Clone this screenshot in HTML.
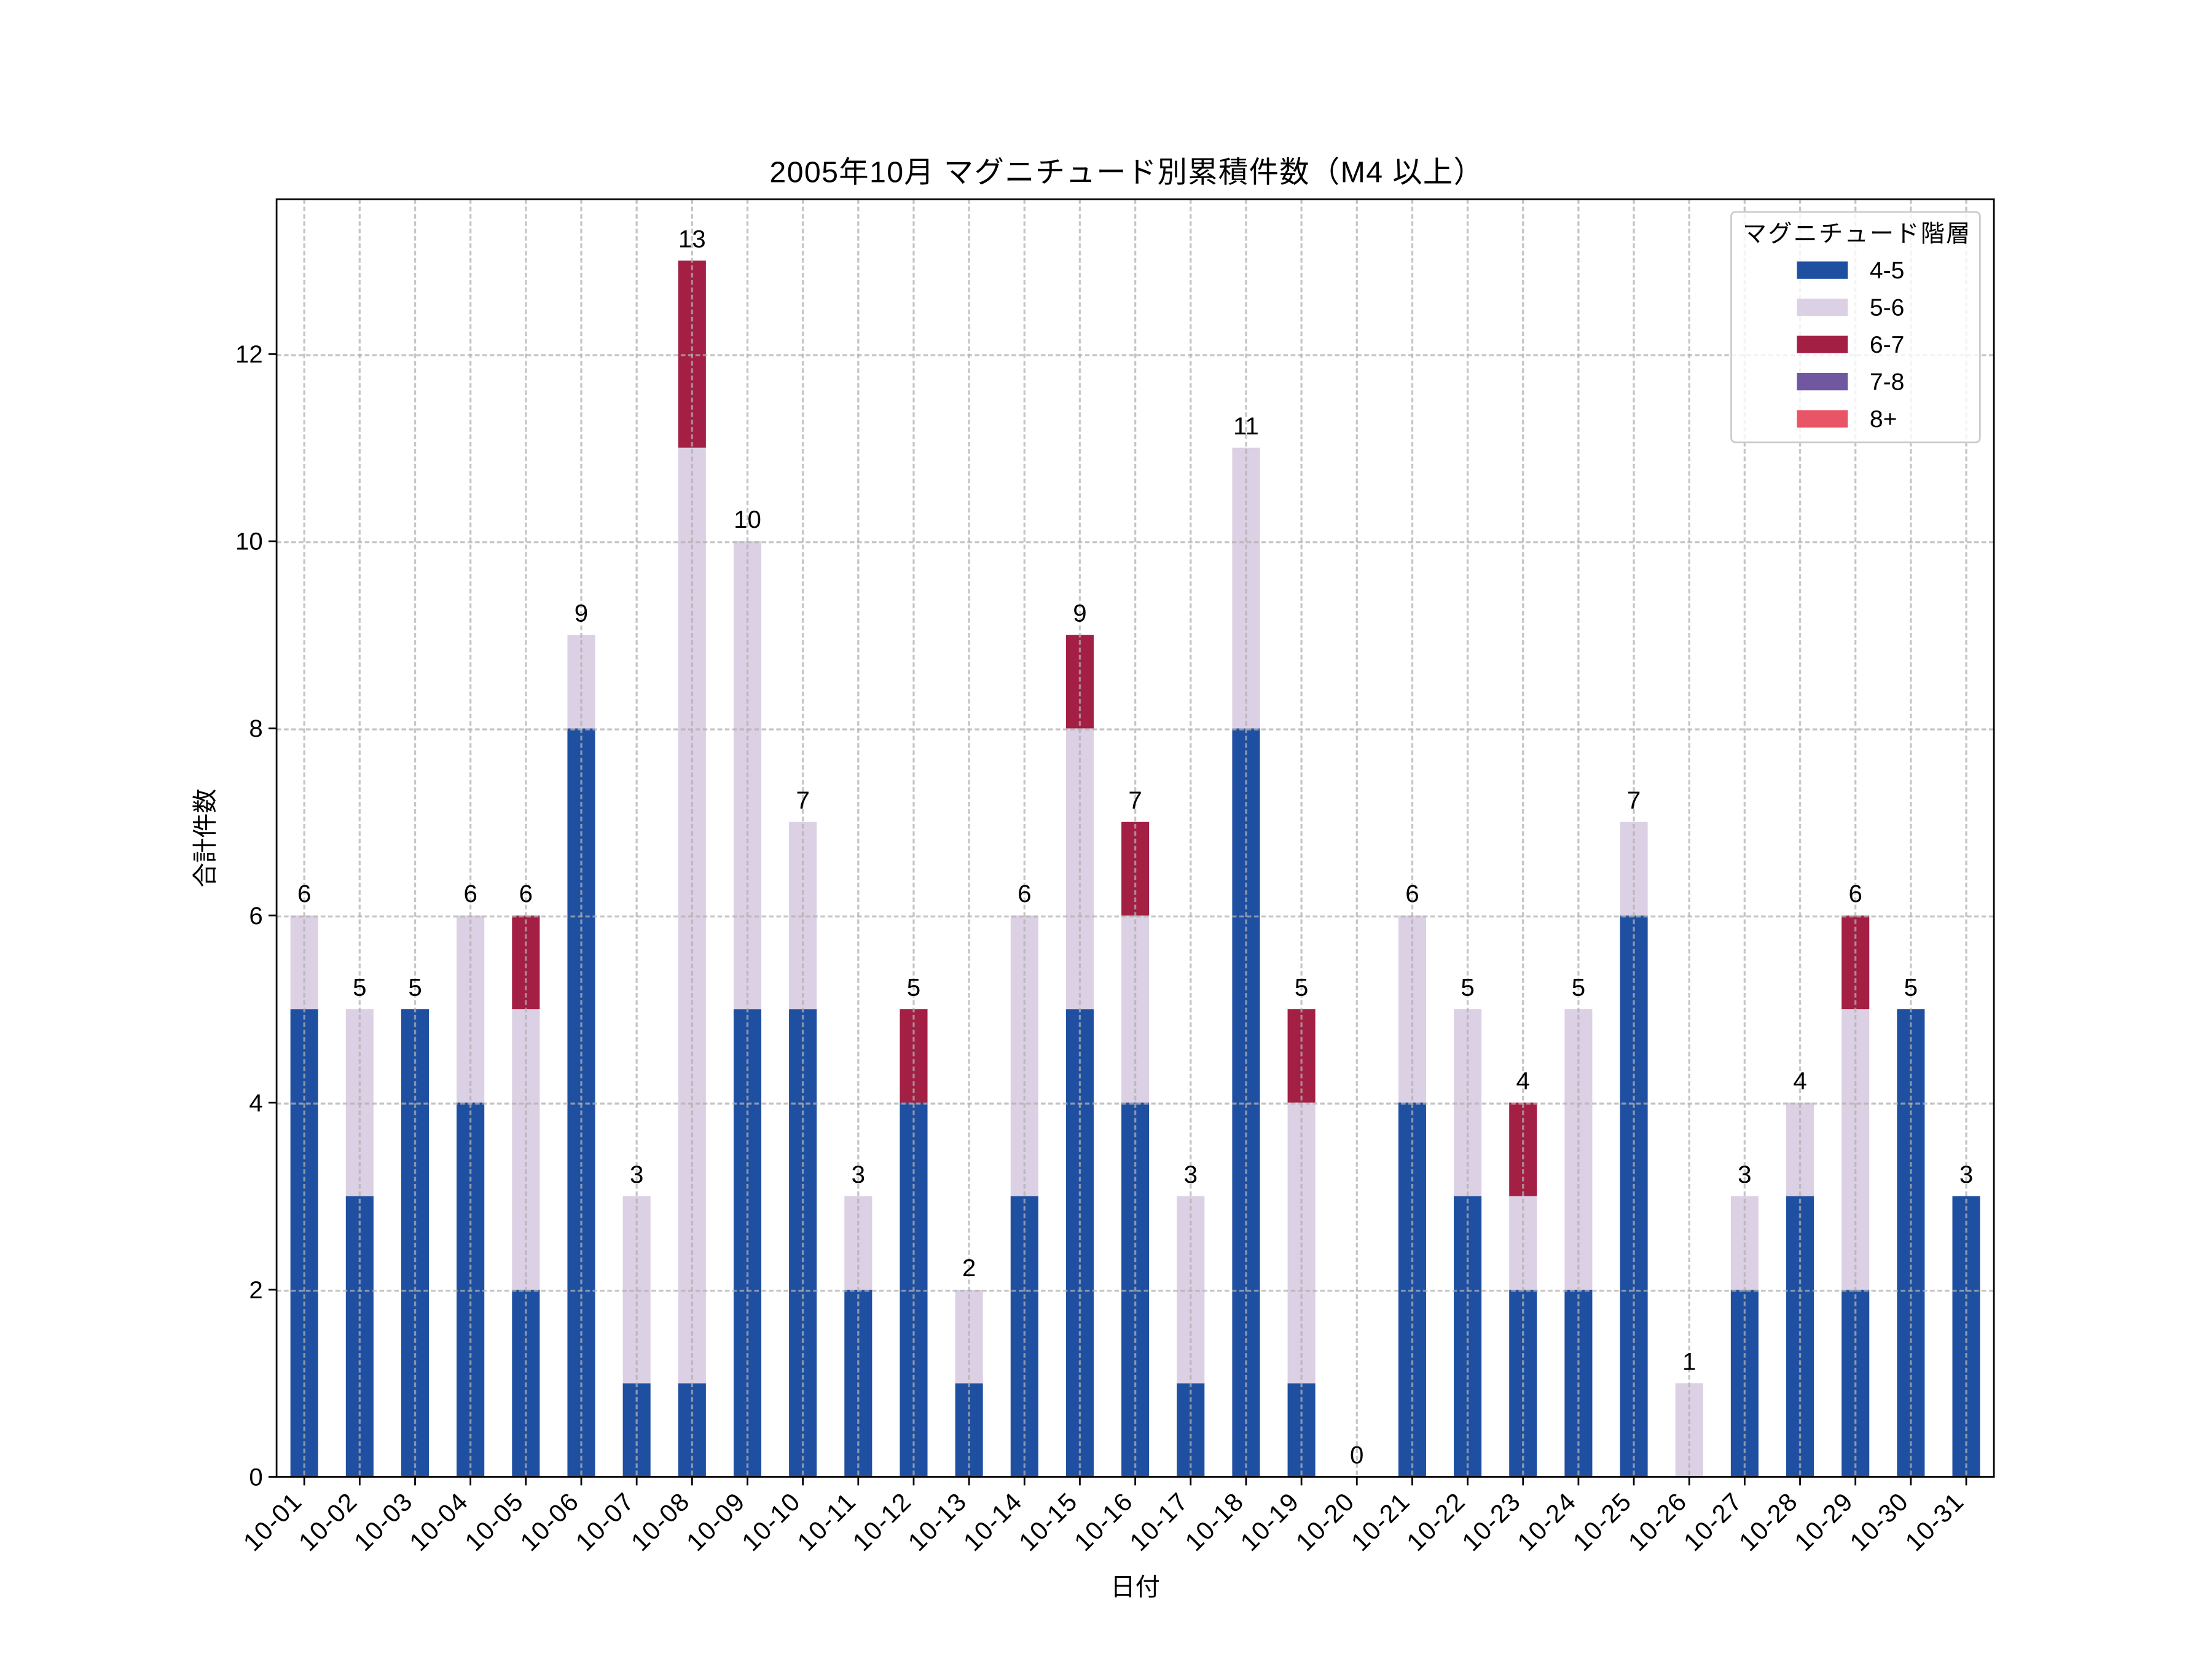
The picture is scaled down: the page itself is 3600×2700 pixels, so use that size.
<!DOCTYPE html>
<html><head><meta charset="utf-8"><style>html,body{margin:0;padding:0;background:#fff}svg{display:block}text{font-family:"Liberation Sans","Noto Sans CJK JP",sans-serif;fill:#000}</style></head><body>
<svg width="3600" height="2700" viewBox="0 0 1565.2 1173.9" xmlns="http://www.w3.org/2000/svg">
<defs>
<pattern id="gv" patternUnits="userSpaceOnUse" x="195.7" y="141" width="39.2" height="5.2"><line x1="19.6" y1="0" x2="19.6" y2="3.3" stroke="#b0b0b0" stroke-width="1.4" stroke-opacity="0.75"/></pattern>
<pattern id="gh" patternUnits="userSpaceOnUse" x="195.7" y="118.2" width="5.2" height="132.4"><line x1="0" y1="0" x2="3.3" y2="0" stroke="#b0b0b0" stroke-width="2.8" stroke-opacity="0.75"/></pattern>
</defs>
<rect width="1565.2" height="1173.9" fill="#fff"/>
<g transform="translate(215.3 1045) scale(39.2 -66.2)">
<g fill="#1f4fa0">
<rect x="-0.25" y="0" width="0.5" height="5"/><rect x="0.75" y="0" width="0.5" height="3"/><rect x="1.75" y="0" width="0.5" height="5"/><rect x="2.75" y="0" width="0.5" height="4"/><rect x="3.75" y="0" width="0.5" height="2"/><rect x="4.75" y="0" width="0.5" height="8"/><rect x="5.75" y="0" width="0.5" height="1"/><rect x="6.75" y="0" width="0.5" height="1"/><rect x="7.75" y="0" width="0.5" height="5"/><rect x="8.75" y="0" width="0.5" height="5"/><rect x="9.75" y="0" width="0.5" height="2"/><rect x="10.75" y="0" width="0.5" height="4"/><rect x="11.75" y="0" width="0.5" height="1"/><rect x="12.75" y="0" width="0.5" height="3"/><rect x="13.75" y="0" width="0.5" height="5"/><rect x="14.75" y="0" width="0.5" height="4"/><rect x="15.75" y="0" width="0.5" height="1"/><rect x="16.75" y="0" width="0.5" height="8"/><rect x="17.75" y="0" width="0.5" height="1"/><rect x="19.75" y="0" width="0.5" height="4"/><rect x="20.75" y="0" width="0.5" height="3"/><rect x="21.75" y="0" width="0.5" height="2"/><rect x="22.75" y="0" width="0.5" height="2"/><rect x="23.75" y="0" width="0.5" height="6"/><rect x="25.75" y="0" width="0.5" height="2"/><rect x="26.75" y="0" width="0.5" height="3"/><rect x="27.75" y="0" width="0.5" height="2"/><rect x="28.75" y="0" width="0.5" height="5"/><rect x="29.75" y="0" width="0.5" height="3"/>
</g>
<g fill="#dcd0e4">
<rect x="-0.25" y="5" width="0.5" height="1"/><rect x="0.75" y="3" width="0.5" height="2"/><rect x="2.75" y="4" width="0.5" height="2"/><rect x="3.75" y="2" width="0.5" height="3"/><rect x="4.75" y="8" width="0.5" height="1"/><rect x="5.75" y="1" width="0.5" height="2"/><rect x="6.75" y="1" width="0.5" height="10"/><rect x="7.75" y="5" width="0.5" height="5"/><rect x="8.75" y="5" width="0.5" height="2"/><rect x="9.75" y="2" width="0.5" height="1"/><rect x="11.75" y="1" width="0.5" height="1"/><rect x="12.75" y="3" width="0.5" height="3"/><rect x="13.75" y="5" width="0.5" height="3"/><rect x="14.75" y="4" width="0.5" height="2"/><rect x="15.75" y="1" width="0.5" height="2"/><rect x="16.75" y="8" width="0.5" height="3"/><rect x="17.75" y="1" width="0.5" height="3"/><rect x="19.75" y="4" width="0.5" height="2"/><rect x="20.75" y="3" width="0.5" height="2"/><rect x="21.75" y="2" width="0.5" height="1"/><rect x="22.75" y="2" width="0.5" height="3"/><rect x="23.75" y="6" width="0.5" height="1"/><rect x="24.75" y="0" width="0.5" height="1"/><rect x="25.75" y="2" width="0.5" height="1"/><rect x="26.75" y="3" width="0.5" height="1"/><rect x="27.75" y="2" width="0.5" height="3"/>
</g>
<g fill="#a31f44">
<rect x="3.75" y="5" width="0.5" height="1"/><rect x="6.75" y="11" width="0.5" height="2"/><rect x="10.75" y="4" width="0.5" height="1"/><rect x="13.75" y="8" width="0.5" height="1"/><rect x="14.75" y="6" width="0.5" height="1"/><rect x="17.75" y="4" width="0.5" height="1"/><rect x="21.75" y="3" width="0.5" height="1"/><rect x="27.75" y="5" width="0.5" height="1"/>
</g>
</g>
<rect x="195.7" y="141" width="1215.2" height="904" fill="url(#gv)"/>
<rect x="195.7" y="141" width="1215.2" height="904" fill="url(#gh)"/>
<g font-size="17.5" text-anchor="middle">
<text x="215.3" y="638.3">6</text><text x="254.5" y="704.5">5</text><text x="293.7" y="704.5">5</text><text x="332.9" y="638.3">6</text><text x="372.1" y="638.3">6</text><text x="411.3" y="439.7">9</text><text x="450.5" y="836.9">3</text><text x="489.7" y="174.9">13</text><text x="528.9" y="373.5">10</text><text x="568.1" y="572.1">7</text><text x="607.3" y="836.9">3</text><text x="646.5" y="704.5">5</text><text x="685.7" y="903.1">2</text><text x="724.9" y="638.3">6</text><text x="764.1" y="439.7">9</text><text x="803.3" y="572.1">7</text><text x="842.5" y="836.9">3</text><text x="881.7" y="307.3">11</text><text x="920.9" y="704.5">5</text><text x="960.1" y="1035.5">0</text><text x="999.3" y="638.3">6</text><text x="1038.5" y="704.5">5</text><text x="1077.7" y="770.7">4</text><text x="1116.9" y="704.5">5</text><text x="1156.1" y="572.1">7</text><text x="1195.3" y="969.3">1</text><text x="1234.5" y="836.9">3</text><text x="1273.7" y="770.7">4</text><text x="1312.9" y="638.3">6</text><text x="1352.1" y="704.5">5</text><text x="1391.3" y="836.9">3</text>
</g>
<rect x="195.7" y="141" width="1215.2" height="904" fill="none" stroke="#000" stroke-width="1.2"/>
<g stroke="#000" stroke-width="1.2">
<line x1="195.7" y1="1045" x2="190" y2="1045"/><line x1="195.7" y1="912.6" x2="190" y2="912.6"/><line x1="195.7" y1="780.2" x2="190" y2="780.2"/><line x1="195.7" y1="647.8" x2="190" y2="647.8"/><line x1="195.7" y1="515.4" x2="190" y2="515.4"/><line x1="195.7" y1="383" x2="190" y2="383"/><line x1="195.7" y1="250.6" x2="190" y2="250.6"/>
<path d="M215.3 1045v6M254.5 1045v6M293.7 1045v6M332.9 1045v6M372.1 1045v6M411.3 1045v6M450.5 1045v6M489.7 1045v6M528.9 1045v6M568.1 1045v6M607.3 1045v6M646.5 1045v6M685.7 1045v6M724.9 1045v6M764.1 1045v6M803.3 1045v6M842.5 1045v6M881.7 1045v6M920.9 1045v6M960.1 1045v6M999.3 1045v6M1038.5 1045v6M1077.7 1045v6M1116.9 1045v6M1156.1 1045v6M1195.3 1045v6M1234.5 1045v6M1273.7 1045v6M1312.9 1045v6M1352.1 1045v6M1391.3 1045v6"/>
</g>
<g font-size="17.5" text-anchor="end">
<text x="186" y="1051">0</text><text x="186" y="918.6">2</text><text x="186" y="786.2">4</text><text x="186" y="653.8">6</text><text x="186" y="521.4">8</text><text x="186" y="389">10</text><text x="186" y="256.6">12</text>
</g>
<g font-size="18" text-anchor="end">
<text transform="translate(214.3 1064) rotate(-45)" textLength="49">10-01</text><text transform="translate(253.5 1064) rotate(-45)" textLength="49">10-02</text><text transform="translate(292.7 1064) rotate(-45)" textLength="49">10-03</text><text transform="translate(331.9 1064) rotate(-45)" textLength="49">10-04</text><text transform="translate(371.1 1064) rotate(-45)" textLength="49">10-05</text><text transform="translate(410.3 1064) rotate(-45)" textLength="49">10-06</text><text transform="translate(449.5 1064) rotate(-45)" textLength="49">10-07</text><text transform="translate(488.7 1064) rotate(-45)" textLength="49">10-08</text><text transform="translate(527.9 1064) rotate(-45)" textLength="49">10-09</text><text transform="translate(567.1 1064) rotate(-45)" textLength="49">10-10</text><text transform="translate(606.3 1064) rotate(-45)" textLength="49">10-11</text><text transform="translate(645.5 1064) rotate(-45)" textLength="49">10-12</text><text transform="translate(684.7 1064) rotate(-45)" textLength="49">10-13</text><text transform="translate(723.9 1064) rotate(-45)" textLength="49">10-14</text><text transform="translate(763.1 1064) rotate(-45)" textLength="49">10-15</text><text transform="translate(802.3 1064) rotate(-45)" textLength="49">10-16</text><text transform="translate(841.5 1064) rotate(-45)" textLength="49">10-17</text><text transform="translate(880.7 1064) rotate(-45)" textLength="49">10-18</text><text transform="translate(919.9 1064) rotate(-45)" textLength="49">10-19</text><text transform="translate(959.1 1064) rotate(-45)" textLength="49">10-20</text><text transform="translate(998.3 1064) rotate(-45)" textLength="49">10-21</text><text transform="translate(1037.5 1064) rotate(-45)" textLength="49">10-22</text><text transform="translate(1076.7 1064) rotate(-45)" textLength="49">10-23</text><text transform="translate(1115.9 1064) rotate(-45)" textLength="49">10-24</text><text transform="translate(1155.1 1064) rotate(-45)" textLength="49">10-25</text><text transform="translate(1194.3 1064) rotate(-45)" textLength="49">10-26</text><text transform="translate(1233.5 1064) rotate(-45)" textLength="49">10-27</text><text transform="translate(1272.7 1064) rotate(-45)" textLength="49">10-28</text><text transform="translate(1311.9 1064) rotate(-45)" textLength="49">10-29</text><text transform="translate(1351.1 1064) rotate(-45)" textLength="49">10-30</text><text transform="translate(1390.3 1064) rotate(-45)" textLength="49">10-31</text>
</g>
<text x="803.3" y="1129" font-size="17.5" text-anchor="middle">日付</text>
<text transform="translate(151 593) rotate(-90)" font-size="17.5" text-anchor="middle">合計件数</text>
<text x="797" y="129" font-size="21" text-anchor="middle" textLength="505">2005年10月 マグニチュード別累積件数（M4 以上）</text>
<rect x="1225" y="150" width="176" height="163" rx="3" fill="#fff" fill-opacity="0.8" stroke="#ccc" stroke-width="1.2"/>
<text x="1313.5" y="171" font-size="17" text-anchor="middle" textLength="161">マグニチュード階層</text>
<rect x="1271.5" y="185" width="36" height="12.3" fill="#1f4fa0"/>
<rect x="1271.5" y="211.3" width="36" height="12.3" fill="#dcd0e4"/>
<rect x="1271.5" y="237.6" width="36" height="12.3" fill="#a31f44"/>
<rect x="1271.5" y="263.9" width="36" height="12.3" fill="#7058a0"/>
<rect x="1271.5" y="290.2" width="36" height="12.3" fill="#e85566"/>
<g font-size="17"><text x="1323" y="197">4-5</text><text x="1323" y="223.3">5-6</text><text x="1323" y="249.6">6-7</text><text x="1323" y="275.9">7-8</text><text x="1323" y="302.2">8+</text></g>
</svg>
</body></html>
